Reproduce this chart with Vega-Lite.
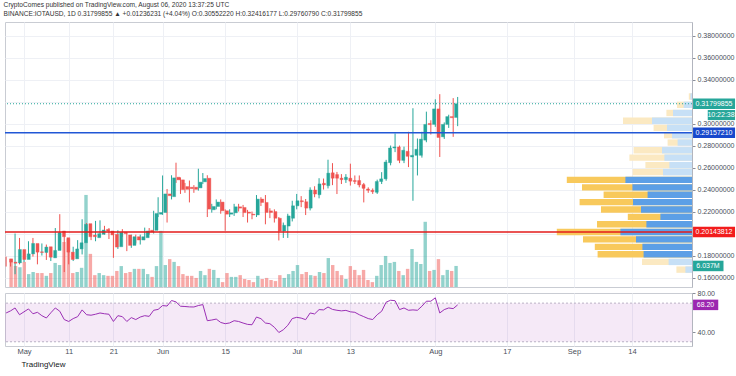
{
"$schema": "https://vega.github.io/schema/vega-lite/v6.json",
"padding": {"left": 3, "top": 1, "right": 0, "bottom": 0},
"background": "white",
"spacing": 0,
"config": {"font": "Liberation Sans", "view": {"stroke": "#c9ccd3", "strokeWidth": 1}},
"title": {"text": "CryptoComes published on TradingView.com, August 06, 2020 13:37:25 UTC", "subtitle": "BINANCE:IOTAUSD, 1D  0.31799855 ▲ +0.01236231 (+4.04%) O:0.30552220 H:0.32416177 L:0.29760790 C:0.31799855", "anchor": "start", "frame": "bounds", "font": "Liberation Sans", "fontSize": 6.6, "fontWeight": "normal", "color": "#333333", "subtitleFont": "Liberation Sans", "subtitleFontSize": 6.6, "subtitleColor": "#333333", "subtitlePadding": 2.5, "offset": 4},
"datasets": {
"candles": [
{"d":"2020-04-27","o":0.177,"h":0.179,"l":0.170,"c":0.174,"v":8.0,"r":59.8},
{"d":"2020-04-28","o":0.174,"h":0.176,"l":0.170,"c":0.173,"v":6.0,"r":62},
{"d":"2020-04-29","o":0.1733,"h":0.200,"l":0.163,"c":0.1855,"v":5.7,"r":65},
{"d":"2020-04-30","o":0.1855,"h":0.196,"l":0.172,"c":0.1764,"v":7.2,"r":58},
{"d":"2020-05-01","o":0.1764,"h":0.184,"l":0.174,"c":0.1815,"v":3.7,"r":61},
{"d":"2020-05-02","o":0.1815,"h":0.193,"l":0.178,"c":0.191,"v":4.3,"r":64},
{"d":"2020-05-03","o":0.191,"h":0.196,"l":0.179,"c":0.1831,"v":4.0,"r":59},
{"d":"2020-05-04","o":0.1834,"h":0.188,"l":0.172,"c":0.1828,"v":4.0,"r":60.5},
{"d":"2020-05-05","o":0.1828,"h":0.191,"l":0.180,"c":0.1877,"v":3.2,"r":57},
{"d":"2020-05-06","o":0.188,"h":0.190,"l":0.176,"c":0.1785,"v":4.0,"r":54.6},
{"d":"2020-05-07","o":0.1779,"h":0.187,"l":0.175,"c":0.1846,"v":6.9,"r":60},
{"d":"2020-05-08","o":0.1846,"h":0.205,"l":0.182,"c":0.2008,"v":6.3,"r":65},
{"d":"2020-05-09","o":0.2023,"h":0.2176,"l":0.193,"c":0.1971,"v":12.9,"r":61.6},
{"d":"2020-05-10","o":0.1962,"h":0.199,"l":0.165,"c":0.1831,"v":13.8,"r":53},
{"d":"2020-05-11","o":0.1831,"h":0.186,"l":0.172,"c":0.1764,"v":4.0,"r":51},
{"d":"2020-05-12","o":0.177,"h":0.188,"l":0.175,"c":0.186,"v":4.3,"r":54},
{"d":"2020-05-13","o":0.186,"h":0.194,"l":0.184,"c":0.1916,"v":5.5,"r":56},
{"d":"2020-05-14","o":0.1916,"h":0.213,"l":0.181,"c":0.2084,"v":26.4,"r":63},
{"d":"2020-05-15","o":0.209,"h":0.2095,"l":0.193,"c":0.1971,"v":9.5,"r":58},
{"d":"2020-05-16","o":0.1986,"h":0.201,"l":0.194,"c":0.1971,"v":3.4,"r":57.5},
{"d":"2020-05-17","o":0.1962,"h":0.2115,"l":0.193,"c":0.1999,"v":4.0,"r":58.5},
{"d":"2020-05-18","o":0.1993,"h":0.212,"l":0.197,"c":0.2032,"v":3.4,"r":59.8},
{"d":"2020-05-19","o":0.2038,"h":0.207,"l":0.199,"c":0.2023,"v":3.2,"r":59},
{"d":"2020-05-20","o":0.2023,"h":0.205,"l":0.195,"c":0.1987,"v":3.2,"r":58.5},
{"d":"2020-05-21","o":0.1993,"h":0.202,"l":0.1779,"c":0.1877,"v":4.6,"r":51},
{"d":"2020-05-22","o":0.188,"h":0.203,"l":0.186,"c":0.2011,"v":6.0,"r":57},
{"d":"2020-05-23","o":0.2011,"h":0.204,"l":0.197,"c":0.1999,"v":4.0,"r":56},
{"d":"2020-05-24","o":0.1987,"h":0.201,"l":0.184,"c":0.1892,"v":4.3,"r":51},
{"d":"2020-05-25","o":0.1892,"h":0.199,"l":0.187,"c":0.1971,"v":5.2,"r":55},
{"d":"2020-05-26","o":0.1971,"h":0.199,"l":0.191,"c":0.1941,"v":5.2,"r":53},
{"d":"2020-05-27","o":0.1941,"h":0.199,"l":0.190,"c":0.1971,"v":5.2,"r":55.6},
{"d":"2020-05-28","o":0.1962,"h":0.2054,"l":0.194,"c":0.2023,"v":3.7,"r":57},
{"d":"2020-05-29","o":0.203,"h":0.205,"l":0.199,"c":0.2014,"v":2.9,"r":56.3},
{"d":"2020-05-30","o":0.2029,"h":0.2207,"l":0.200,"c":0.2182,"v":6.0,"r":62.6},
{"d":"2020-05-31","o":0.2176,"h":0.2330,"l":0.215,"c":0.2191,"v":16.1,"r":63.5},
{"d":"2020-06-01","o":0.2191,"h":0.2528,"l":0.217,"c":0.2360,"v":6.3,"r":67.5},
{"d":"2020-06-02","o":0.2360,"h":0.2405,"l":0.2100,"c":0.2344,"v":8.0,"r":67},
{"d":"2020-06-03","o":0.2335,"h":0.2530,"l":0.2310,"c":0.2506,"v":7.2,"r":72.7},
{"d":"2020-06-04","o":0.2512,"h":0.2644,"l":0.2460,"c":0.2488,"v":6.0,"r":71.3},
{"d":"2020-06-05","o":0.2488,"h":0.2510,"l":0.2360,"c":0.2399,"v":3.7,"r":66.8},
{"d":"2020-06-06","o":0.2427,"h":0.2460,"l":0.2370,"c":0.2402,"v":3.2,"r":66.5},
{"d":"2020-06-07","o":0.2421,"h":0.2482,"l":0.2283,"c":0.2408,"v":3.2,"r":66.1},
{"d":"2020-06-08","o":0.2421,"h":0.2440,"l":0.2370,"c":0.2402,"v":2.6,"r":66},
{"d":"2020-06-09","o":0.2415,"h":0.2589,"l":0.2390,"c":0.2467,"v":4.6,"r":67.5},
{"d":"2020-06-10","o":0.2470,"h":0.2550,"l":0.2450,"c":0.2500,"v":3.4,"r":68.5},
{"d":"2020-06-11","o":0.2503,"h":0.2530,"l":0.2150,"c":0.2222,"v":5.2,"r":51.8},
{"d":"2020-06-12","o":0.2216,"h":0.2270,"l":0.2190,"c":0.2246,"v":4.9,"r":52.5},
{"d":"2020-06-13","o":0.2246,"h":0.2310,"l":0.2220,"c":0.2286,"v":2.6,"r":53.5},
{"d":"2020-06-14","o":0.2286,"h":0.2310,"l":0.2180,"c":0.2207,"v":1.4,"r":50},
{"d":"2020-06-15","o":0.2207,"h":0.2220,"l":0.2025,"c":0.2176,"v":4.0,"r":48.7},
{"d":"2020-06-16","o":0.2176,"h":0.2220,"l":0.2150,"c":0.2188,"v":2.9,"r":49.5},
{"d":"2020-06-17","o":0.2188,"h":0.2270,"l":0.2160,"c":0.2243,"v":2.9,"r":51.8},
{"d":"2020-06-18","o":0.2243,"h":0.2270,"l":0.2200,"c":0.2231,"v":3.4,"r":51},
{"d":"2020-06-19","o":0.2237,"h":0.2260,"l":0.2150,"c":0.2190,"v":2.3,"r":49.4},
{"d":"2020-06-20","o":0.2195,"h":0.2215,"l":0.2100,"c":0.2185,"v":2.0,"r":48},
{"d":"2020-06-21","o":0.2176,"h":0.2200,"l":0.2130,"c":0.2169,"v":1.4,"r":47.6},
{"d":"2020-06-22","o":0.2169,"h":0.2350,"l":0.2150,"c":0.2313,"v":3.2,"r":55.6},
{"d":"2020-06-23","o":0.2313,"h":0.2330,"l":0.2250,"c":0.2283,"v":2.3,"r":53.9},
{"d":"2020-06-24","o":0.2283,"h":0.2350,"l":0.2084,"c":0.2191,"v":2.6,"r":49.4},
{"d":"2020-06-25","o":0.2206,"h":0.2230,"l":0.2140,"c":0.2191,"v":2.0,"r":48.7},
{"d":"2020-06-26","o":0.2200,"h":0.2220,"l":0.2100,"c":0.2139,"v":1.7,"r":45},
{"d":"2020-06-27","o":0.2139,"h":0.2150,"l":0.1937,"c":0.2023,"v":3.4,"r":39.6},
{"d":"2020-06-28","o":0.2023,"h":0.2100,"l":0.1960,"c":0.2075,"v":2.6,"r":42.4},
{"d":"2020-06-29","o":0.2068,"h":0.2180,"l":0.1960,"c":0.2160,"v":3.7,"r":47},
{"d":"2020-06-30","o":0.2139,"h":0.2298,"l":0.2110,"c":0.2252,"v":4.6,"r":54},
{"d":"2020-07-01","o":0.2252,"h":0.2360,"l":0.2220,"c":0.2298,"v":6.3,"r":55.3},
{"d":"2020-07-02","o":0.2298,"h":0.2340,"l":0.2240,"c":0.2289,"v":3.7,"r":54.5},
{"d":"2020-07-03","o":0.2289,"h":0.2314,"l":0.2168,"c":0.2231,"v":4.3,"r":52.9},
{"d":"2020-07-04","o":0.2231,"h":0.2420,"l":0.2210,"c":0.2396,"v":3.4,"r":59.8},
{"d":"2020-07-05","o":0.2396,"h":0.2430,"l":0.2330,"c":0.2359,"v":3.2,"r":58.8},
{"d":"2020-07-06","o":0.2353,"h":0.2503,"l":0.2320,"c":0.2451,"v":4.3,"r":63.3},
{"d":"2020-07-07","o":0.2457,"h":0.2500,"l":0.2400,"c":0.2442,"v":4.0,"r":63},
{"d":"2020-07-08","o":0.2435,"h":0.2671,"l":0.2410,"c":0.2549,"v":8.3,"r":66},
{"d":"2020-07-09","o":0.2552,"h":0.2640,"l":0.2440,"c":0.2503,"v":6.3,"r":63.5},
{"d":"2020-07-10","o":0.2536,"h":0.2560,"l":0.2359,"c":0.2503,"v":4.6,"r":62.6},
{"d":"2020-07-11","o":0.2503,"h":0.2540,"l":0.2450,"c":0.2490,"v":3.4,"r":62},
{"d":"2020-07-12","o":0.2490,"h":0.2540,"l":0.2460,"c":0.2512,"v":2.3,"r":62.5},
{"d":"2020-07-13","o":0.2503,"h":0.2635,"l":0.2436,"c":0.2476,"v":6.0,"r":61},
{"d":"2020-07-14","o":0.2482,"h":0.2528,"l":0.2450,"c":0.2473,"v":4.9,"r":60.5},
{"d":"2020-07-15","o":0.2482,"h":0.2528,"l":0.2420,"c":0.2442,"v":3.4,"r":58},
{"d":"2020-07-16","o":0.2445,"h":0.2460,"l":0.2283,"c":0.2411,"v":4.9,"r":56},
{"d":"2020-07-17","o":0.2405,"h":0.2420,"l":0.2370,"c":0.2393,"v":2.0,"r":54},
{"d":"2020-07-18","o":0.2393,"h":0.2410,"l":0.2360,"c":0.2381,"v":1.4,"r":53},
{"d":"2020-07-19","o":0.2375,"h":0.2490,"l":0.2360,"c":0.2473,"v":3.2,"r":58},
{"d":"2020-07-20","o":0.2473,"h":0.2558,"l":0.2450,"c":0.2497,"v":6.3,"r":61.6},
{"d":"2020-07-21","o":0.2497,"h":0.2670,"l":0.2480,"c":0.2650,"v":8.9,"r":71},
{"d":"2020-07-22","o":0.2644,"h":0.2800,"l":0.2620,"c":0.2778,"v":6.9,"r":73},
{"d":"2020-07-23","o":0.2778,"h":0.2910,"l":0.2740,"c":0.2787,"v":7.2,"r":72.5},
{"d":"2020-07-24","o":0.2787,"h":0.2800,"l":0.2640,"c":0.2665,"v":4.6,"r":63.3},
{"d":"2020-07-25","o":0.2665,"h":0.2790,"l":0.2640,"c":0.2757,"v":3.4,"r":65},
{"d":"2020-07-26","o":0.2748,"h":0.2925,"l":0.2604,"c":0.2702,"v":5.2,"r":62.6},
{"d":"2020-07-27","o":0.2696,"h":0.3139,"l":0.2298,"c":0.2711,"v":10.9,"r":63},
{"d":"2020-07-28","o":0.2711,"h":0.2864,"l":0.2528,"c":0.2766,"v":7.2,"r":62.6},
{"d":"2020-07-29","o":0.2711,"h":0.2925,"l":0.2690,"c":0.2858,"v":6.6,"r":66.8},
{"d":"2020-07-30","o":0.2849,"h":0.3108,"l":0.2830,"c":0.2992,"v":18.7,"r":72},
{"d":"2020-07-31","o":0.3001,"h":0.3030,"l":0.2900,"c":0.2990,"v":4.6,"r":72},
{"d":"2020-08-01","o":0.2992,"h":0.3220,"l":0.2970,"c":0.3133,"v":4.9,"r":75.5},
{"d":"2020-08-02","o":0.3133,"h":0.3267,"l":0.2696,"c":0.2873,"v":8.0,"r":59.8},
{"d":"2020-08-03","o":0.2879,"h":0.3010,"l":0.2860,"c":0.2992,"v":3.4,"r":63.3},
{"d":"2020-08-04","o":0.2992,"h":0.3080,"l":0.2960,"c":0.3063,"v":4.9,"r":65},
{"d":"2020-08-05","o":0.3063,"h":0.3231,"l":0.2879,"c":0.3053,"v":4.6,"r":64.3},
{"d":"2020-08-06","o":0.3055222,"h":0.32416177,"l":0.2976079,"c":0.31799855,"v":6.037,"r":68.2}
],
"profile": [
{"lo":0.3217,"hi":0.3275,"up":0.8,"dn":0.8,"va":false},
{"lo":0.3141,"hi":0.3199,"up":4.2,"dn":3.3,"va":false},
{"lo":0.3067,"hi":0.3125,"up":9.5,"dn":3.3,"va":false},
{"lo":0.2996,"hi":0.3054,"up":20,"dn":14.5,"va":false},
{"lo":0.2932,"hi":0.2990,"up":12.5,"dn":6.7,"va":false},
{"lo":0.2865,"hi":0.2923,"up":10,"dn":4,"va":false},
{"lo":0.2798,"hi":0.2856,"up":7.2,"dn":5,"va":false},
{"lo":0.2728,"hi":0.2786,"up":15,"dn":14.2,"va":false},
{"lo":0.2661,"hi":0.2719,"up":13.8,"dn":17.5,"va":false},
{"lo":0.2593,"hi":0.2651,"up":11.3,"dn":12,"va":false},
{"lo":0.2529,"hi":0.2587,"up":14.5,"dn":15.2,"va":false},
{"lo":0.2459,"hi":0.2517,"up":33.3,"dn":29.3,"va":true},
{"lo":0.2391,"hi":0.2449,"up":29.8,"dn":25.2,"va":true},
{"lo":0.2324,"hi":0.2382,"up":22.2,"dn":22,"va":true},
{"lo":0.2257,"hi":0.2315,"up":29.5,"dn":26.7,"va":true},
{"lo":0.2189,"hi":0.2247,"up":25.5,"dn":20,"va":true},
{"lo":0.2123,"hi":0.2181,"up":15.8,"dn":16.3,"va":true},
{"lo":0.2056,"hi":0.2114,"up":22.8,"dn":24.7,"va":true},
{"lo":0.1985,"hi":0.2043,"up":35.8,"dn":31.8,"va":true},
{"lo":0.1918,"hi":0.1976,"up":28,"dn":26.5,"va":true},
{"lo":0.1850,"hi":0.1908,"up":24.8,"dn":23.8,"va":true},
{"lo":0.1783,"hi":0.1841,"up":24.2,"dn":23,"va":true},
{"lo":0.1713,"hi":0.1771,"up":11.7,"dn":13.3,"va":false},
{"lo":0.1643,"hi":0.1701,"up":3.3,"dn":4.5,"va":false}
]
},
"vconcat": [
{
"width": 687, "height": 265,
"data": {"name": "candles"},
"resolve": {"scale": {"x": "independent", "y": "independent"}},
"layer": [
{"mark": {"type": "bar", "width": 3.4, "opacity": 0.5},
 "encoding": {
  "x": {"field": "d", "type": "temporal", "scale": {"type": "utc", "domain": [{"year":2020,"month":4,"date":26,"hours":18,"utc":true},{"year":2020,"month":9,"date":27,"hours":10,"utc":true}]}, "axis": null},
  "y": {"field": "v", "type": "quantitative", "scale": {"domain": [0, 76], "nice": false}, "axis": null},
  "color": {"condition": {"test": "datum.c >= datum.o", "value": "#26a69a"}, "value": "#ef5350"}
 }},
{"data": {"name": "profile"},
 "transform": [{"calculate": "datum.up + datum.dn", "as": "tot"}],
 "mark": {"type": "rect"},
 "encoding": {
  "x": {"field": "tot", "type": "quantitative", "scale": {"domain": [0, 343.5], "reverse": true, "nice": false}, "axis": null},
  "x2": {"datum": 0},
  "y": {"field": "lo", "type": "quantitative", "scale": {"domain": [0.1514, 0.3923], "nice": false, "zero": false},
        "axis": {"orient": "left", "values": [0.16,0.18,0.2,0.22,0.24,0.26,0.28,0.3,0.32,0.34,0.36,0.38], "labels": false, "ticks": false, "domain": false, "grid": true, "gridColor": "#eef0f5", "title": null, "minExtent": 0, "maxExtent": 0}},
  "y2": {"field": "hi"},
  "color": {"condition": {"test": "datum.va", "value": "#f8c95c"}, "value": "#fbe9c2"}
 }},
{"data": {"name": "profile"},
 "mark": {"type": "rect"},
 "encoding": {
  "x": {"field": "up", "type": "quantitative", "scale": {"domain": [0, 343.5], "reverse": true, "nice": false}, "axis": null},
  "x2": {"datum": 0},
  "y": {"field": "lo", "type": "quantitative", "scale": {"domain": [0.1514, 0.3923], "nice": false, "zero": false}, "axis": null},
  "y2": {"field": "hi"},
  "color": {"condition": {"test": "datum.va", "value": "#5c9fe6"}, "value": "#c7e0f6"}
 }},
{"mark": {"type": "rule", "strokeWidth": 1},
 "encoding": {
  "x": {"field": "d", "type": "temporal", "scale": {"type": "utc", "domain": [{"year":2020,"month":4,"date":26,"hours":18,"utc":true},{"year":2020,"month":9,"date":27,"hours":10,"utc":true}]},
        "axis": {"values": [{"year":2020,"month":5,"date":1,"utc":true},{"year":2020,"month":5,"date":11,"utc":true},{"year":2020,"month":5,"date":21,"utc":true},{"year":2020,"month":6,"date":1,"utc":true},{"year":2020,"month":6,"date":15,"utc":true},{"year":2020,"month":7,"date":1,"utc":true},{"year":2020,"month":7,"date":13,"utc":true},{"year":2020,"month":8,"date":1,"utc":true},{"year":2020,"month":8,"date":17,"utc":true},{"year":2020,"month":9,"date":1,"utc":true},{"year":2020,"month":9,"date":14,"utc":true}],
                 "labels": false, "ticks": false, "domain": false, "grid": true, "gridColor": "#eef0f5", "title": null, "minExtent": 0, "maxExtent": 0}},
  "y": {"field": "l", "type": "quantitative", "scale": {"domain": [0.1514, 0.3923], "nice": false, "zero": false},
        "axis": {"orient": "right", "values": [0.16,0.18,0.22,0.24,0.26,0.28,0.3,0.34,0.36,0.38], "format": ".8f", "grid": false, "tickSize": 3, "tickColor": "#8a8e99", "domainColor": "#b2b5be", "labelFontSize": 7, "labelColor": "#4a4f5a", "labelPadding": 2, "title": null}},
  "y2": {"field": "h"},
  "color": {"condition": {"test": "datum.c >= datum.o", "value": "#26a69a"}, "value": "#ef5350"}
 }},
{"mark": {"type": "bar", "width": 3, "strokeWidth": 0.4},
 "encoding": {
  "x": {"field": "d", "type": "temporal", "scale": {"type": "utc", "domain": [{"year":2020,"month":4,"date":26,"hours":18,"utc":true},{"year":2020,"month":9,"date":27,"hours":10,"utc":true}]}, "axis": null},
  "y": {"field": "o", "type": "quantitative", "scale": {"domain": [0.1514, 0.3923], "nice": false, "zero": false}, "axis": null},
  "y2": {"field": "c"},
  "color": {"condition": {"test": "datum.c >= datum.o", "value": "#26a69a"}, "value": "#ef5350"},
  "stroke": {"condition": {"test": "datum.c >= datum.o", "value": "#26a69a"}, "value": "#ef5350"}
 }},
{"data": {"values": [{}]},
 "mark": {"type": "rule", "color": "#26a69a", "strokeWidth": 1, "strokeDash": [1, 2]},
 "encoding": {"y": {"datum": 0.31799855, "type": "quantitative", "scale": {"domain": [0.1514, 0.3923], "nice": false, "zero": false}, "axis": null}}},
{"data": {"values": [{}]},
 "mark": {"type": "rule", "color": "#2157d6", "strokeWidth": 1.5},
 "encoding": {"y": {"datum": 0.2915721, "type": "quantitative", "scale": {"domain": [0.1514, 0.3923], "nice": false, "zero": false}, "axis": null}}},
{"data": {"values": [{}]},
 "mark": {"type": "rule", "color": "#e31b1b", "strokeWidth": 1.5},
 "encoding": {"y": {"datum": 0.20143812, "type": "quantitative", "scale": {"domain": [0.1514, 0.3923], "nice": false, "zero": false}, "axis": null}}},
{"data": {"values": [{}]},
 "mark": {"type": "point", "shape": "M0.05,-0.25H2.05V0.25H0.05Z", "size": 1764, "filled": true, "opacity": 1, "color": "#26a69a", "strokeWidth": 0},
 "encoding": {"x": {"value": "width"}, "y": {"datum": 0.31799855, "type": "quantitative", "scale": {"domain": [0.1514, 0.3923], "nice": false, "zero": false}, "axis": null}}},
{"data": {"values": [{}]},
 "mark": {"type": "point", "shape": "M0.75,0.3H2.05V0.78H0.75Z", "size": 1764, "filled": true, "opacity": 1, "color": "#26a69a", "strokeWidth": 0},
 "encoding": {"x": {"value": "width"}, "y": {"datum": 0.31799855, "type": "quantitative", "scale": {"domain": [0.1514, 0.3923], "nice": false, "zero": false}, "axis": null}}},
{"data": {"values": [{}]},
 "mark": {"type": "point", "shape": "M0.05,-0.25H2.05V0.25H0.05Z", "size": 1764, "filled": true, "opacity": 1, "color": "#1848cc", "strokeWidth": 0},
 "encoding": {"x": {"value": "width"}, "y": {"datum": 0.2915721, "type": "quantitative", "scale": {"domain": [0.1514, 0.3923], "nice": false, "zero": false}, "axis": null}}},
{"data": {"values": [{}]},
 "mark": {"type": "point", "shape": "M0.05,-0.25H2.05V0.25H0.05Z", "size": 1764, "filled": true, "opacity": 1, "color": "#f21c1c", "strokeWidth": 0},
 "encoding": {"x": {"value": "width"}, "y": {"datum": 0.20143812, "type": "quantitative", "scale": {"domain": [0.1514, 0.3923], "nice": false, "zero": false}, "axis": null}}},
{"data": {"values": [{}]},
 "mark": {"type": "point", "shape": "M0.05,-0.25H1.5V0.25H0.05Z", "size": 1764, "filled": true, "opacity": 1, "color": "#26a69a", "strokeWidth": 0},
 "encoding": {"x": {"value": "width"}, "y": {"datum": 6.037, "type": "quantitative", "scale": {"domain": [0, 76], "nice": false}, "axis": null}}},
{"data": {"values": [{}]},
 "mark": {"type": "text", "dx": 22, "align": "center", "baseline": "middle", "fontSize": 7, "color": "white"},
 "encoding": {"x": {"value": "width"}, "y": {"datum": 0.31799855, "type": "quantitative", "scale": {"domain": [0.1514, 0.3923], "nice": false, "zero": false}, "axis": null}, "text": {"value": "0.31799855"}}},
{"data": {"values": [{}]},
 "mark": {"type": "text", "dx": 29, "dy": 11, "align": "center", "baseline": "middle", "fontSize": 7, "color": "white"},
 "encoding": {"x": {"value": "width"}, "y": {"datum": 0.31799855, "type": "quantitative", "scale": {"domain": [0.1514, 0.3923], "nice": false, "zero": false}, "axis": null}, "text": {"value": "10:22:38"}}},
{"data": {"values": [{}]},
 "mark": {"type": "text", "dx": 22, "align": "center", "baseline": "middle", "fontSize": 7, "color": "white"},
 "encoding": {"x": {"value": "width"}, "y": {"datum": 0.2915721, "type": "quantitative", "scale": {"domain": [0.1514, 0.3923], "nice": false, "zero": false}, "axis": null}, "text": {"value": "0.29157210"}}},
{"data": {"values": [{}]},
 "mark": {"type": "text", "dx": 22, "align": "center", "baseline": "middle", "fontSize": 7, "color": "white"},
 "encoding": {"x": {"value": "width"}, "y": {"datum": 0.20143812, "type": "quantitative", "scale": {"domain": [0.1514, 0.3923], "nice": false, "zero": false}, "axis": null}, "text": {"value": "0.20143812"}}},
{"data": {"values": [{}]},
 "mark": {"type": "text", "dx": 16, "align": "center", "baseline": "middle", "fontSize": 7, "color": "white"},
 "encoding": {"x": {"value": "width"}, "y": {"datum": 6.037, "type": "quantitative", "scale": {"domain": [0, 76], "nice": false}, "axis": null}, "text": {"value": "6.037M"}}}
]
},
{
"width": 687, "height": 53,
"data": {"name": "candles"},
"layer": [
{"data": {"values": [{}]},
 "mark": {"type": "rect", "color": "#9c27b0", "opacity": 0.1},
 "encoding": {"x": {"value": 0}, "x2": {"value": "width"},
  "y": {"datum": 70, "type": "quantitative", "scale": {"domain": [25.6, 80.5], "nice": false, "zero": false},
        "axis": {"orient": "right", "values": [40, 60, 80], "format": ".2f", "grid": false, "tickSize": 3, "tickColor": "#8a8e99", "domainColor": "#b2b5be", "labelFontSize": 7, "labelColor": "#4a4f5a", "labelPadding": 2, "title": null}},
  "y2": {"datum": 30}}},
{"data": {"values": [{"lvl": 70}, {"lvl": 30}]},
 "mark": {"type": "rule", "color": "#b9b0c4", "strokeWidth": 1, "strokeDash": [2, 2]},
 "encoding": {"y": {"field": "lvl", "type": "quantitative"}}},
{"mark": {"type": "line", "color": "#9b30b5", "strokeWidth": 1},
 "encoding": {
  "x": {"field": "d", "type": "temporal", "scale": {"type": "utc", "domain": [{"year":2020,"month":4,"date":26,"hours":18,"utc":true},{"year":2020,"month":9,"date":27,"hours":10,"utc":true}]},
        "axis": {"values": [{"year":2020,"month":5,"date":1,"utc":true},{"year":2020,"month":5,"date":11,"utc":true},{"year":2020,"month":5,"date":21,"utc":true},{"year":2020,"month":6,"date":1,"utc":true},{"year":2020,"month":6,"date":15,"utc":true},{"year":2020,"month":7,"date":1,"utc":true},{"year":2020,"month":7,"date":13,"utc":true},{"year":2020,"month":8,"date":1,"utc":true},{"year":2020,"month":8,"date":17,"utc":true},{"year":2020,"month":9,"date":1,"utc":true},{"year":2020,"month":9,"date":14,"utc":true}],
                 "labelExpr": "utcFormat(datum.value, '%d') == '01' ? utcFormat(datum.value, '%b') : utcFormat(datum.value, '%-d')",
                 "grid": true, "gridColor": "#eef0f5", "ticks": false, "domain": false, "labelFontSize": 7.5, "labelColor": "#4a4f5a", "labelPadding": 1,
                 "title": "TradingView", "titleAnchor": "start", "titleAlign": "left", "titleX": 16, "titleFontSize": 8, "titleFontWeight": "normal", "titleColor": "#131722", "titlePadding": 6}},
  "y": {"field": "r", "type": "quantitative", "scale": {"domain": [25.6, 80.5], "nice": false, "zero": false}}
 }},
{"data": {"values": [{}]},
 "mark": {"type": "point", "shape": "M0.05,-0.25H1.25V0.25H0.05Z", "size": 1764, "filled": true, "opacity": 1, "color": "#9c27b0", "strokeWidth": 0},
 "encoding": {"x": {"value": "width"}, "y": {"datum": 68.2, "type": "quantitative"}}},
{"data": {"values": [{}]},
 "mark": {"type": "text", "dx": 13.5, "align": "center", "baseline": "middle", "fontSize": 7, "color": "white"},
 "encoding": {"x": {"value": "width"}, "y": {"datum": 68.2, "type": "quantitative"}, "text": {"value": "68.20"}}}
]
}
]
}
